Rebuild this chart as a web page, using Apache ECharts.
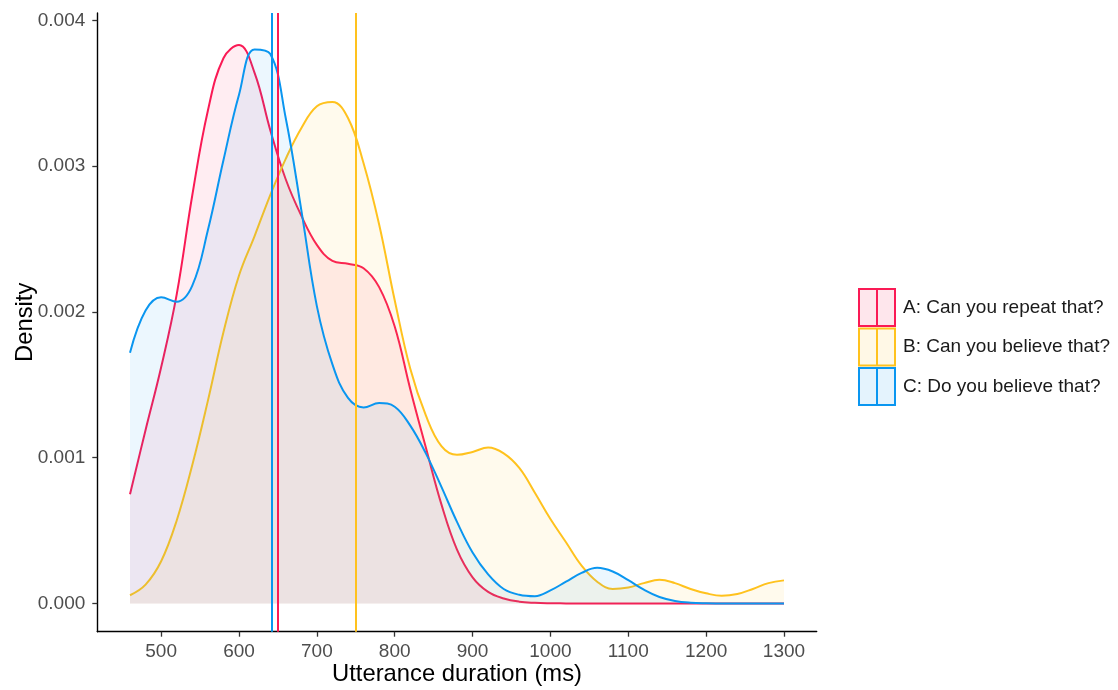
<!DOCTYPE html>
<html>
<head>
<meta charset="utf-8">
<script src="https://cdn.jsdelivr.net/npm/echarts@6/dist/echarts.min.js"></script>
<style>
html,body{margin:0;padding:0;background:#fff;}
#chart{width:1118px;height:690px;}
</style>
</head>
<body>
<div id="chart"></div>
<script>
// Grid of utterance durations (ms) at which densities were read
const durations = [460,480,500,520,540,560,580,600,620,640,660,680,700,720,740,760,780,800,820,840,860,880,900,920,940,960,980,1000,1020,1040,1060,1080,1100,1120,1140,1160,1180,1200,1220,1240,1260,1280,1300];

const seriesNames = ['A: Can you repeat that?', 'B: Can you believe that?', 'C: Do you believe that?'];

const densityA = [0.00075,0.00119,0.00162,0.00212,0.00280,0.00338,0.00374,0.00383,0.00364,0.00325,0.00291,0.00266,0.00246,0.00235,0.00233,0.00230,0.00217,0.00190,0.00147,0.00107,0.00068,0.00037,0.00018,0.00008,0.000035,0.000013,0.000005,0.000002,0.000001,0,0,0,0,0,0,0,0,0,0,0,0,0,0];

const densityB = [0.000057,0.00013,0.00029,0.00057,0.00095,0.00139,0.00186,0.00225,0.00252,0.00280,0.00305,0.00326,0.00341,0.00344,0.00333,0.00302,0.00260,0.00208,0.00161,0.00129,0.00108,0.00102,0.00104,0.00107,0.00103,0.00093,0.00076,0.00058,0.00042,0.00026,0.00015,0.00010,0.00011,0.00014,0.000163,0.00014,0.00010,0.00007,0.000053,0.000065,0.00010,0.00014,0.000159];

const densityC = [0.00172,0.00201,0.00210,0.00207,0.00218,0.00256,0.00304,0.00349,0.00380,0.00377,0.00333,0.00270,0.00204,0.00164,0.00141,0.001345,0.001375,0.00135,0.00122,0.00103,0.00080,0.00056,0.00035,0.00020,0.00010,0.00006,0.00005,0.00009,0.00015,0.00021,0.000245,0.00022,0.00016,0.000095,0.000045,0.000018,0.000006,0.000002,0.000001,0,0,0,0];

const means = [650, 749.5, 641.5];

const xTicks = [500,600,700,800,900,1000,1100,1200,1300];
const yTicks = [0,0.001,0.002,0.003,0.004];

const colors = ['#FA1A55', '#FFC21E', '#0A96F0'];
const fills = ['rgba(250,26,85,0.11)', 'rgba(255,194,30,0.11)', 'rgba(10,150,240,0.11)'];

const allDensities = [densityA, densityB, densityC];
const FONT = 'Liberation Sans, Arial, sans-serif';

const series = allDensities.map(function (d, i) {
  return {
    name: seriesNames[i],
    type: 'line',
    data: durations.map(function (x, j) { return [x, d[j]]; }),
    smooth: 0.4,
    showSymbol: false,
    symbol: 'none',
    lineStyle: { color: colors[i], width: 2 },
    itemStyle: { color: colors[i] },
    areaStyle: { color: fills[i], origin: 0 },
    z: 2 + i,
    animation: false,
    markLine: {
      silent: true,
      symbol: 'none',
      label: { show: false },
      lineStyle: { color: colors[i], width: 2, type: 'solid' },
      data: [{ xAxis: means[i] }],
      animation: false,
      z: 10
    }
  };
});

const iconPath = 'path://M0,0L36,0L36,37L0,37Z M18,0L18,37';

const chart = echarts.init(document.getElementById('chart'), null, { renderer: 'canvas' });
chart.setOption({
  animation: false,
  backgroundColor: '#ffffff',
  textStyle: { fontFamily: FONT },
  grid: { left: 97.3, right: 301.3, top: 13, bottom: 58.3, containLabel: false, outerBoundsMode: 'none' },
  legend: {
    orient: 'vertical',
    left: 853,
    top: 283,
    itemWidth: 36,
    itemHeight: 37,
    itemGap: 0.5,
    selectedMode: false,
    icon: iconPath,
    textStyle: { fontSize: 19, color: '#1a1a1a', padding: [0, 0, 0, 3], fontFamily: FONT },
    data: seriesNames.map(function (n, i) {
      return { name: n, icon: iconPath, itemStyle: { color: fills[i], borderColor: colors[i], borderWidth: 2 } };
    })
  },
  xAxis: {
    type: 'value',
    min: 418,
    max: 1342,
    name: 'Utterance duration (ms)',
    nameLocation: 'middle',
    nameGap: 31,
    nameMoveOverlap: false,
    nameTextStyle: { fontSize: 23.8, color: '#000', fontFamily: FONT },
    axisLine: { show: true, onZero: false, lineStyle: { color: '#000', width: 1.4 } },
    axisTick: { show: true, length: 5, customValues: xTicks, lineStyle: { color: '#333', width: 1.3 } },
    axisLabel: {
      show: true, margin: 11, customValues: xTicks, fontSize: 19, color: '#4D4D4D', fontFamily: FONT,
      formatter: function (v) { return String(v); }
    },
    splitLine: { show: false }
  },
  yAxis: {
    type: 'value',
    min: -0.000193,
    max: 0.00405,
    name: 'Density',
    nameLocation: 'middle',
    nameGap: 60,
    nameMoveOverlap: false,
    nameRotate: 90,
    nameTextStyle: { fontSize: 23.8, color: '#000', fontFamily: FONT },
    axisLine: { show: true, onZero: false, lineStyle: { color: '#000', width: 1.4 } },
    axisTick: { show: true, length: 5, customValues: yTicks, lineStyle: { color: '#333', width: 1.3 } },
    axisLabel: {
      show: true, margin: 12, customValues: yTicks, fontSize: 19, color: '#4D4D4D', fontFamily: FONT,
      formatter: function (v) { return v.toFixed(3); }
    },
    splitLine: { show: false }
  },
  series: series
});
</script>
</body>
</html>
